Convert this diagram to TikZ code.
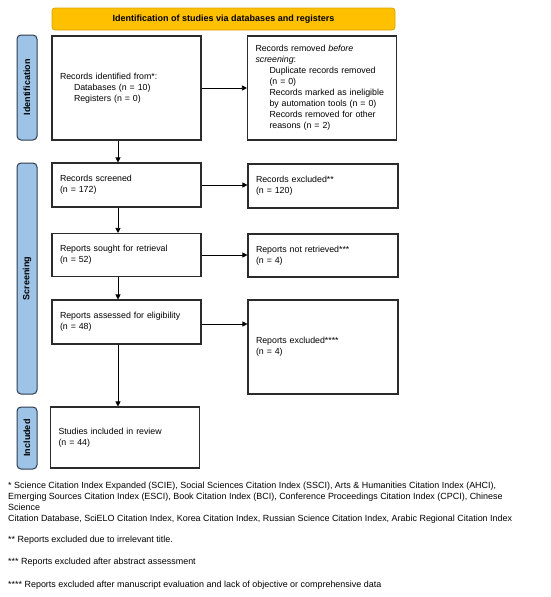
\documentclass[tikz,border=0pt]{standalone}
\usepackage{fontspec}
\setmainfont{Liberation Sans}
\usetikzlibrary{arrows.meta,calc}
\definecolor{bannerfill}{HTML}{FFC000}
\definecolor{bannerdraw}{HTML}{D9A300}
\definecolor{barfill}{HTML}{9DC3E6}
\definecolor{bardraw}{HTML}{2E3B4E}
\definecolor{boxdraw}{HTML}{2B2B2B}
\tikzset{
  box/.style={draw=boxdraw, line width=1.1pt, fill=white, inner xsep=8pt, inner ysep=2pt,
    align=left, font=\fontsize{8.8}{11}\selectfont, anchor=center},
  sidebar/.style={draw=bardraw, line width=1pt, fill=barfill, rounded corners=4pt,
    font=\bfseries\fontsize{9}{10}\selectfont, rotate=90, inner sep=0pt},
  banner/.style={draw=bannerdraw, line width=0.8pt, fill=bannerfill, rounded corners=3pt,
    font=\bfseries\fontsize{9}{10}\selectfont, inner sep=0pt},
  arr/.style={draw=black, line width=0.6pt, -{Triangle[length=5pt,width=5pt]}},
  foot/.style={font=\fontsize{8.95}{10}\selectfont, anchor=west, inner sep=0pt}
}
\begin{document}
\begin{tikzpicture}[x=1pt,y=-1pt]
\useasboundingbox (0,0) rectangle (550,597);
% banner
\node[banner, minimum width=343pt, minimum height=22pt] (ban) at (223.5,19) {Identification of studies via databases and registers};
% side bars
\node[sidebar, minimum width=105pt, minimum height=20pt] (sbid) at (27,87.5) {Identification};
\node[sidebar, minimum width=231pt, minimum height=20pt] (sbsc) at (27,278.5) {Screening};
\node[sidebar, minimum width=62pt, minimum height=20pt] (sbin) at (27,438) {Included};
% left column
\node[box, minimum width=149pt, minimum height=104pt, text width=133pt] (id) at (126.5,88)
  {Records identified from*:\\\hspace*{14pt}Databases (n = 10)\\\hspace*{14pt}Registers (n = 0)};
\node[box, minimum width=149pt, minimum height=44pt, text width=133pt] (scr) at (126.5,185)
  {Records screened\\(n = 172)};
\node[box, minimum width=149pt, minimum height=43pt, text width=133pt] (sought) at (126.5,255)
  {Reports sought for retrieval\\(n = 52)};
\node[box, minimum width=149pt, minimum height=44pt, text width=133pt] (assess) at (126.5,322)
  {Reports assessed for eligibility\\(n = 48)};
\node[box, minimum width=149pt, minimum height=61pt, text width=133pt] (incl) at (125,437.5)
  {Studies included in review\\(n = 44)};
% right column
\node[box, minimum width=149pt, minimum height=104pt, text width=133pt] (removed) at (322,88)
  {Records removed \emph{before}\\\emph{screening}:\\\hspace*{14pt}Duplicate records removed\\\hspace*{14pt}(n = 0)\\\hspace*{14pt}Records marked as ineligible\\\hspace*{14pt}by automation tools (n = 0)\\\hspace*{14pt}Records removed for other\\\hspace*{14pt}reasons (n = 2)};
\node[box, minimum width=150pt, minimum height=44pt, text width=134pt] (excl) at (323,186)
  {Records excluded**\\(n = 120)};
\node[box, minimum width=150pt, minimum height=43pt, text width=134pt] (notret) at (323,255.5)
  {Reports not retrieved***\\(n = 4)};
\node[box, minimum width=150pt, minimum height=94pt, text width=134pt] (excl4) at (323,347)
  {Reports excluded****\\(n = 4)};
% column coordinate
\coordinate (col) at (118,0);
% arrows
\draw[arr] (id.south -| col) -- (scr.north -| col);
\draw[arr] (scr.south -| col) -- (sought.north -| col);
\draw[arr] (sought.south -| col) -- (assess.north -| col);
\draw[arr] (assess.south -| col) -- (incl.north -| col);
\draw[arr] (id.east) -- (removed.west);
\draw[arr] (scr.east) -- (scr.east -| excl.west);
\draw[arr] (sought.east) -- (sought.east -| notret.west);
\coordinate (a4) at ($(assess.east)+(0,2)$);
\draw[arr] (a4) -- (a4 -| excl4.west);
% footnotes
\node[foot] (f1) at (8,486) {* Science Citation Index Expanded (SCIE), Social Sciences Citation Index (SSCI), Arts \& Humanities Citation Index (AHCI),};
\node[foot] (f2) at (8,497.5) {Emerging Sources Citation Index (ESCI), Book Citation Index (BCI), Conference Proceedings Citation Index (CPCI), Chinese};
\node[foot] (f3) at (8,507.5) {Science};
\node[foot] (f4) at (8,519) {Citation Database, SciELO Citation Index, Korea Citation Index, Russian Science Citation Index, Arabic Regional Citation Index};
\node[foot] (f5) at (8,540) {** Reports excluded due to irrelevant title.};
\node[foot] (f6) at (8,562.5) {*** Reports excluded after abstract assessment};
\node[foot] (f7) at (8,585) {**** Reports excluded after manuscript evaluation and lack of objective or comprehensive data};
\end{tikzpicture}
\end{document}
